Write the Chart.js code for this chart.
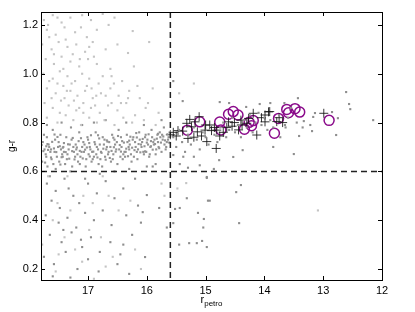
<!DOCTYPE html>
<html lang="en">
<head>
    <meta charset="UTF-8">
    <title>g-r vs r_petro</title>
    <script src="https://cdn.jsdelivr.net/npm/chart.js@4.4.1/dist/chart.umd.min.js"></script>
    <style>
        html, body { margin: 0; padding: 0; background: #fff; }
        #wrap { width: 415px; height: 312px; position: relative; }
    </style>
</head>
<body>
<div id="wrap"><canvas id="myChart"></canvas></div>

<script>
    // axis setup
    var xMin = 12, xMax = 17.8;
    var yMin = 0.155, yMax = 1.253;
    var xTicks = [12, 13, 14, 15, 16, 17];
    var yTicks = [0.2, 0.4, 0.6, 0.8, 1.0, 1.2];
    var rCut = 15.6;
    var grCut = 0.6;

    // faint grey points, upper left cloud
    var lightPts = [
        [17.75,1.22],[17.6,1.24],[17.45,1.21],[17.3,1.23],[17.1,1.24],[16.95,1.22],[16.75,1.245],[16.55,1.23],
        [17.7,1.18],[17.55,1.16],[17.4,1.19],[17.22,1.17],[17.02,1.15],[16.85,1.18],[16.65,1.2],[16.24,1.175],
        [17.78,1.12],[17.62,1.1],[17.5,1.13],[17.35,1.11],[17.2,1.12],[17.05,1.09],[16.92,1.13],[16.7,1.1],[16.5,1.12],[15.96,1.13],[16.32,1.085],
        [17.72,1.06],[17.58,1.04],[17.45,1.07],[17.3,1.05],[17.15,1.03],[17.0,1.06],[16.85,1.04],[16.62,1.02],[16.22,1.03],[17.66,1.15],[17.26,1.08],[16.9,1.07],
        [17.76,1.0],[17.6,0.98],[17.48,1.01],[17.35,0.99],[17.22,0.97],[17.1,1.0],[16.98,0.98],[16.82,0.96],[16.6,0.99],[16.42,0.97],[17.52,0.96],[17.02,0.95],[16.75,0.99],
        [17.7,0.94],[17.55,0.92],[17.42,0.95],[17.3,0.93],[17.18,0.91],[17.05,0.93],[16.92,0.9],[16.78,0.92],[16.62,0.94],[16.48,0.91],[16.3,0.93],[16.12,0.9],[17.4,0.9],[16.86,0.91],[15.9,0.94],
        [17.74,0.88],[17.6,0.86],[17.46,0.89],[17.33,0.87],[17.2,0.85],[17.08,0.88],[16.95,0.86],[16.8,0.84],[16.66,0.87],[16.5,0.85],[16.35,0.88],[16.2,0.83],[16.02,0.86],[15.8,0.84],[17.15,0.86],[16.6,0.88],
        [17.7,0.82],[17.52,0.8],[17.38,0.83],[17.25,0.81],[17.12,0.79],[16.98,0.82],[16.85,0.8],[16.72,0.81],[16.55,0.79],[16.4,0.82],[16.25,0.8],[16.05,0.81],[15.85,0.79],
        [17.68,1.2],[17.52,1.23],[17.38,1.14],[17.12,1.19],[17.58,1.08],[17.42,1.02],[17.28,0.96],[17.14,1.06],[16.98,1.11],[17.62,0.9],[17.48,0.84],[17.24,0.89],
        [16.94,0.94],[16.7,0.91],[16.56,0.96],[16.44,0.88],[17.08,0.84],[16.88,0.87],[17.36,0.93],[17.66,0.97],[16.32,0.9],[16.16,0.95],[15.98,0.88],[15.45,0.92],[15.2,0.96]
    ];

    // faint grey points below the cut
    var lightLowPts = [
        [17.68,0.58],[17.52,0.47],[17.3,0.44],[17.08,0.5],[16.92,0.47],[16.65,0.5],[16.48,0.44],[16.28,0.48],[17.6,0.4],[17.4,0.33],
        [17.22,0.28],[16.98,0.36],[16.78,0.33],[16.58,0.25],[16.2,0.28],[17.78,0.3],[17.5,0.26],[17.1,0.23],[16.7,0.21],[16.1,0.2],
        [17.55,0.19],[16.9,0.16],[17.35,0.58],[16.75,0.58],[15.75,0.55],[15.7,0.5],[13.09,0.44],[15.33,0.552],[15.48,0.53]
    ];

    // darker grey points: red sequence band
    var bandPts = [
        [17.78,0.64],[17.74,0.69],[17.77,0.72],[17.71,0.66],[17.75,0.75],[17.69,0.62],[17.72,0.67],[17.66,0.70],[17.7,0.74],[17.64,0.68],
        [17.62,0.65],[17.67,0.71],[17.59,0.63],[17.63,0.69],[17.6,0.77],[17.57,0.68],[17.53,0.66],[17.56,0.73],[17.51,0.70],[17.55,0.61],
        [17.49,0.64],[17.46,0.69],[17.5,0.72],[17.44,0.67],[17.47,0.75],[17.42,0.70],[17.39,0.63],[17.43,0.66],[17.37,0.74],[17.41,0.68],
        [17.35,0.67],[17.31,0.71],[17.36,0.65],[17.33,0.69],[17.29,0.78],[17.27,0.62],[17.24,0.68],[17.28,0.73],[17.22,0.66],[17.25,0.70],
        [17.2,0.69],[17.17,0.64],[17.21,0.71],[17.15,0.76],[17.18,0.67],[17.13,0.66],[17.1,0.70],[17.14,0.63],[17.08,0.72],[17.11,0.68],
        [17.06,0.71],[17.03,0.65],[17.07,0.68],[17.01,0.74],[17.04,0.62],[16.99,0.67],[16.96,0.69],[17.0,0.73],[16.94,0.64],[16.97,0.70],
        [16.92,0.65],[16.89,0.72],[16.93,0.68],[16.87,0.76],[16.9,0.66],[16.85,0.70],[16.82,0.63],[16.86,0.67],[16.8,0.71],[16.83,0.69],
        [16.78,0.68],[16.75,0.74],[16.79,0.65],[16.73,0.71],[16.76,0.62],[16.71,0.66],[16.68,0.70],[16.72,0.73],[16.66,0.67],[16.69,0.69],
        [16.64,0.72],[16.61,0.64],[16.65,0.68],[16.59,0.75],[16.62,0.70],[16.57,0.67],[16.54,0.71],[16.58,0.65],[16.52,0.69],[16.55,0.73],
        [16.5,0.63],[16.47,0.69],[16.51,0.72],[16.45,0.66],[16.48,0.77],[16.43,0.70],[16.4,0.67],[16.44,0.74],[16.38,0.68],[16.41,0.65],
        [16.36,0.68],[16.33,0.72],[16.37,0.66],[16.31,0.70],[16.34,0.75],[16.29,0.71],[16.26,0.64],[16.3,0.69],[16.24,0.73],[16.27,0.67],
        [16.22,0.66],[16.19,0.70],[16.23,0.74],[16.17,0.68],[16.2,0.72],[16.15,0.69],[16.12,0.73],[16.16,0.65],[16.1,0.71],[16.13,0.76],
        [16.08,0.72],[16.05,0.67],[16.09,0.70],[16.03,0.74],[16.06,0.68],[16.01,0.68],[15.98,0.71],[16.02,0.75],[15.96,0.66],[15.99,0.73],
        [15.94,0.70],[15.91,0.74],[15.95,0.67],[15.89,0.72],[15.92,0.77],[15.87,0.73],[15.84,0.69],[15.88,0.71],[15.82,0.75],[15.85,0.67],
        [15.8,0.70],[15.77,0.74],[15.81,0.72],[15.75,0.68],[15.78,0.76],[15.73,0.73],[15.7,0.71],[15.74,0.75],[15.68,0.69],[15.71,0.78],
        [15.66,0.72],[15.63,0.74],[15.67,0.70],[15.61,0.76],[15.64,0.73],
        [17.65,0.58],[17.3,0.6],[17.05,0.57],[16.8,0.59],[16.55,0.6],[16.3,0.61],[16.0,0.62],[15.85,0.63],
        [17.45,0.8],[17.1,0.79],[16.7,0.81],[16.35,0.8],[16.05,0.79],[15.75,0.81],[17.7,0.79],[16.9,0.8]
    ];

    // more band points, in between the first set
    var bandPts2 = [
        [17.76,0.683],[17.69,0.712],[17.63,0.657],[17.58,0.694],[17.52,0.741],[17.47,0.628],[17.41,0.716],[17.38,0.679],[17.32,0.652],[17.26,0.737],
        [17.19,0.698],[17.16,0.724],[17.09,0.653],[17.05,0.689],[16.98,0.716],[16.95,0.748],[16.91,0.681],[16.84,0.657],[16.81,0.735],[16.74,0.693],
        [16.7,0.648],[16.67,0.722],[16.6,0.684],[16.56,0.699],[16.49,0.745],[16.46,0.708],[16.39,0.718],[16.35,0.693],[16.28,0.742],[16.25,0.697],
        [16.18,0.757],[16.14,0.712],[16.07,0.733],[16.04,0.703],[15.97,0.752],[15.93,0.724],[15.86,0.712],[15.83,0.734],[15.76,0.718],[15.72,0.743],
        [15.65,0.752],[15.62,0.718],[17.79,0.708],[17.73,0.636],[17.68,0.688],[17.61,0.721],[17.54,0.679],[17.48,0.703],[17.45,0.658],[17.34,0.711],
        [17.23,0.649],[17.12,0.736],[17.02,0.698],[16.88,0.711],[16.77,0.676],[16.63,0.655],[16.53,0.681],[16.42,0.724],[16.32,0.662],[16.21,0.687],
        [16.11,0.678],[16.0,0.718],[15.9,0.689],[15.79,0.695],[15.69,0.727],[17.71,0.703],[17.57,0.751],[17.43,0.697],[17.27,0.683],[17.14,0.684],
        [16.97,0.661],[16.83,0.748],[16.68,0.727],[16.57,0.738],[16.44,0.681],[16.3,0.726],[16.17,0.739],[16.03,0.682],[15.93,0.703],[15.81,0.754]
    ];

    var brightPts = [
        [15.55,0.74],[15.5,0.70],[15.45,0.77],[15.4,0.72],[15.35,0.68],[15.3,0.75],[15.25,0.71],[15.2,0.78],[15.15,0.73],[15.1,0.69],
        [15.05,0.76],[15.0,0.74],[14.95,0.71],[14.9,0.79],[14.85,0.75],[14.8,0.72],[14.75,0.78],[14.7,0.8],[14.65,0.74],[14.6,0.77],
        [14.55,0.82],[14.5,0.76],[14.45,0.79],[14.4,0.74],[14.35,0.81],[14.3,0.78],[14.25,0.83],[14.2,0.76],[14.15,0.8],[14.1,0.84],
        [14.05,0.79],[14.0,0.82],[13.95,0.77],[13.9,0.81],[13.85,0.78],[13.75,0.83],[13.65,0.79],[13.55,0.86],[13.45,0.8],[13.35,0.78],
        [15.55,0.97],[14.76,0.884],[15.39,0.888],[14.6,0.88],[14.31,0.864],[14.08,0.876],[13.9,0.88],[15.55,0.667],[15.38,0.66],[15.2,0.66],
        [14.77,0.646],[14.53,0.659],[14.37,0.687],[14.98,0.577],[12.61,0.925],[12.56,0.876],[12.54,0.855],[12.15,0.81],[12.78,0.749],[12.75,0.818],
        [12.85,0.843],[13.14,0.839],[13.17,0.823],[13.22,0.79],[13.19,0.765],[13.33,0.806],[13.41,0.745],[13.43,0.9],[13.5,0.671],[13.85,0.7],
        [13.73,0.74],[13.64,0.78],[13.6,0.82],[13.66,0.88]
    ];

    var lowPts = [
        [15.9,0.62],[15.44,0.63],[15.1,0.625],[15.3,0.615],[14.86,0.61],[16.0,0.503],[15.79,0.45],[16.07,0.433],[15.52,0.446],[15.44,0.45],
        [15.32,0.49],[14.98,0.573],[14.96,0.48],[14.93,0.48],[15.13,0.43],[15.03,0.405],[15.04,0.37],[15.66,0.37],[15.55,0.388],[15.45,0.3],
        [15.28,0.306],[15.15,0.306],[15.06,0.315],[14.98,0.29],[14.48,0.515],[14.4,0.544],[14.43,0.388],[16.03,0.249],
        [17.7,0.55],[17.55,0.52],[17.4,0.57],[17.25,0.5],[17.62,0.48],[17.48,0.45],[17.33,0.53],[17.15,0.47],[17.0,0.55],[16.85,0.51],
        [16.7,0.56],[16.55,0.49],[16.4,0.53],[16.2,0.57],[17.72,0.42],[17.5,0.39],[17.35,0.41],[17.2,0.37],[17.05,0.43],[16.9,0.4],
        [16.75,0.44],[16.6,0.38],[16.35,0.42],[16.15,0.46],[17.65,0.34],[17.45,0.31],[17.28,0.35],[17.1,0.29],[16.95,0.33],[16.8,0.27],
        [16.62,0.31],[16.45,0.26],[16.25,0.34],[17.75,0.25],[17.58,0.22],[17.38,0.27],[17.18,0.2],[17.0,0.24],[16.82,0.19],[16.5,0.22],
        [16.3,0.18],[17.6,0.17],[17.3,0.165],[16.4,0.3],[16.1,0.39],[17.42,0.36],[17.12,0.32]
    ];

    // black crosses
    var crossPts = [
        [15.55,0.76],[15.5,0.745],[15.47,0.767],[15.39,0.765],[15.24,0.783],[15.18,0.803],[15.3,0.735],[15.14,0.762],[15.07,0.745],[14.98,0.722],
        [15.01,0.769],[14.93,0.79],[14.9,0.767],[14.81,0.769],[14.82,0.694],[14.76,0.745],[14.64,0.78],[14.61,0.803],[14.51,0.8],[14.44,0.77],
        [14.38,0.79],[14.3,0.797],[14.27,0.817],[14.19,0.838],[14.13,0.749],[13.99,0.831],[13.93,0.844],[13.99,0.803],[15.32,0.797],[15.27,0.813],
        [15.11,0.824],[13.91,0.845],[13.79,0.804],[13.69,0.8],[12.99,0.838],[15.6,0.75],[15.0,0.79],[14.7,0.76],[14.55,0.785],[14.4,0.81],
        [14.05,0.82],[13.75,0.82],[15.2,0.74],[14.85,0.78]
    ];

    // purple open circles
    var circlePts = [
        [15.31,0.769],[15.1,0.803],[14.76,0.802],[14.74,0.77],[14.61,0.834],[14.53,0.845],[14.45,0.831],[14.34,0.773],[14.26,0.801],[14.19,0.808],
        [14.22,0.787],[13.83,0.756],[13.76,0.817],[13.62,0.854],[13.59,0.84],[13.48,0.857],[13.4,0.843],[12.9,0.809]
    ];

    function toXY(arr) {
        return arr.map(function (p) { return { x: p[0], y: p[1] }; });
    }

    function dotSet(pts, color) {
        return {
            data: toXY(pts),
            pointStyle: 'rect',
            pointRadius: 1.5,
            backgroundColor: color,
            borderWidth: 0
        };
    }

    // frame, inward ticks, cut lines, x title with subscript
    var extras = {
        id: 'extras',
        afterDatasetsDraw: function (chart) {
            var ctx = chart.ctx, a = chart.chartArea;
            var xs = chart.scales.x, ys = chart.scales.y;
            ctx.save();
            ctx.strokeStyle = '#222';
            ctx.lineWidth = 1.5;
            ctx.setLineDash([6, 4]);
            var px = xs.getPixelForValue(rCut);
            ctx.beginPath();
            ctx.moveTo(px, a.top);
            ctx.lineTo(px, a.bottom);
            ctx.stroke();
            var py = ys.getPixelForValue(grCut);
            ctx.beginPath();
            ctx.moveTo(a.left, py);
            ctx.lineTo(a.right, py);
            ctx.stroke();
            ctx.restore();
        },
        afterDraw: function (chart) {
            var ctx = chart.ctx, a = chart.chartArea;
            var xs = chart.scales.x, ys = chart.scales.y;
            ctx.save();
            ctx.strokeStyle = '#000';
            ctx.lineWidth = 1;
            ctx.strokeRect(Math.round(a.left) + 0.5, Math.round(a.top) + 0.5,
                Math.round(a.right - a.left), Math.round(a.bottom - a.top));
            ctx.beginPath();
            xTicks.forEach(function (v) {
                var p = Math.round(xs.getPixelForValue(v)) + 0.5;
                ctx.moveTo(p, a.bottom); ctx.lineTo(p, a.bottom - 4);
                ctx.moveTo(p, a.top); ctx.lineTo(p, a.top + 4);
            });
            yTicks.forEach(function (v) {
                var p = Math.round(ys.getPixelForValue(v)) + 0.5;
                ctx.moveTo(a.left, p); ctx.lineTo(a.left + 4, p);
                ctx.moveTo(a.right, p); ctx.lineTo(a.right - 4, p);
            });
            ctx.stroke();

            // r_petro
            ctx.fillStyle = '#000';
            ctx.textBaseline = 'alphabetic';
            ctx.font = '11px "Liberation Sans", Arial, sans-serif';
            var w1 = ctx.measureText('r').width;
            ctx.font = '8px "Liberation Sans", Arial, sans-serif';
            var w2 = ctx.measureText('petro').width;
            var cx = (a.left + a.right) / 2;
            var x0 = cx - (w1 + w2) / 2;
            ctx.font = '11px "Liberation Sans", Arial, sans-serif';
            ctx.fillText('r', x0, 303);
            ctx.font = '8px "Liberation Sans", Arial, sans-serif';
            ctx.fillText('petro', x0 + w1, 306);
            ctx.restore();
        }
    };

    var tickFont = { family: '"Liberation Sans", Arial, sans-serif', size: 11 };

    var ctx = document.getElementById('myChart').getContext('2d');
    var myChart = new Chart(ctx, {
        type: 'scatter',
        data: {
            datasets: [
                dotSet(lightPts, '#c4c4c4'),
                dotSet(lightLowPts, '#c4c4c4'),
                dotSet(lowPts, '#8e8e8e'),
                dotSet(bandPts, '#939393'),
                dotSet(bandPts2, '#939393'),
                dotSet(brightPts, '#8e8e8e'),
                {
                    data: toXY(crossPts),
                    pointStyle: 'cross',
                    pointRadius: 4.5,
                    borderColor: 'rgba(20,20,20,0.85)',
                    borderWidth: 1
                },
                {
                    data: toXY(circlePts),
                    pointStyle: 'circle',
                    pointRadius: 5,
                    borderColor: '#8a0a8a',
                    backgroundColor: 'rgba(0,0,0,0)',
                    borderWidth: 1.5
                }
            ]
        },
        options: {
            responsive: true,
            maintainAspectRatio: false,
            animation: false,
            layout: { padding: { left: 0, right: 33, top: 12, bottom: 0 } },
            plugins: {
                legend: { display: false },
                tooltip: { enabled: false }
            },
            scales: {
                x: {
                    type: 'linear',
                    reverse: true,
                    min: xMin,
                    max: xMax,
                    border: { display: false },
                    grid: { display: false, drawTicks: false },
                    afterBuildTicks: function (s) { s.ticks = xTicks.map(function (v) { return { value: v }; }); },
                    afterFit: function (s) { s.height = 32; },
                    ticks: {
                        padding: 4,
                        color: '#000',
                        font: tickFont,
                        maxRotation: 0,
                        callback: function (v) { return String(v); }
                    }
                },
                y: {
                    type: 'linear',
                    min: yMin,
                    max: yMax,
                    border: { display: false },
                    grid: { display: false, drawTicks: false },
                    afterBuildTicks: function (s) { s.ticks = yTicks.map(function (v) { return { value: v }; }); },
                    afterFit: function (s) { s.width = 41; },
                    title: {
                        display: true,
                        text: 'g-r',
                        color: '#000',
                        font: { family: '"Liberation Sans", Arial, sans-serif', size: 10 },
                        padding: { top: 6, bottom: 0 }
                    },
                    ticks: {
                        padding: 3,
                        color: '#000',
                        font: tickFont,
                        callback: function (v) { return v.toFixed(1); }
                    }
                }
            }
        },
        plugins: [extras]
    });
</script>
</body>
</html>
